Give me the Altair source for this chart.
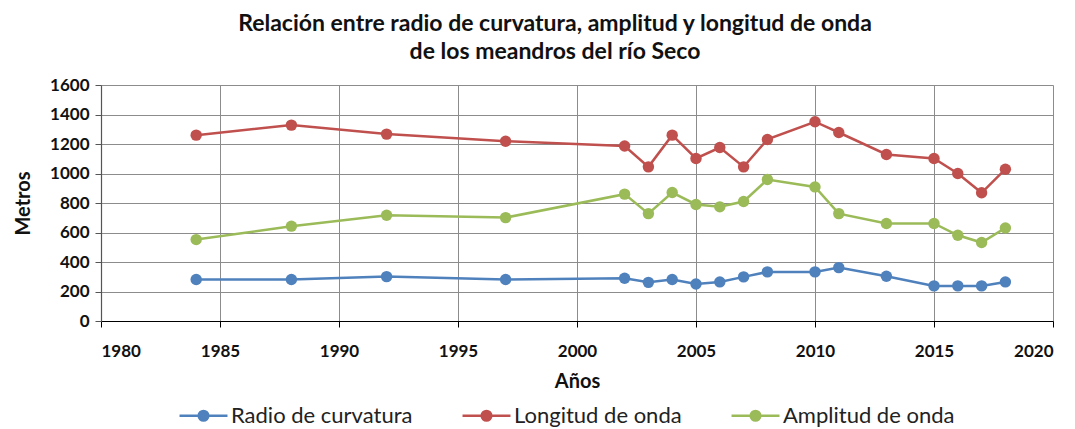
import altair as alt
import pandas as pd

years = [1984, 1988, 1992, 1997, 2002, 2003, 2004, 2005, 2006, 2007, 2008, 2010, 2011, 2013, 2015, 2016, 2017, 2018]
radio = [281, 281, 301, 281, 290, 262, 281, 251, 265, 299, 333, 333, 362, 303, 238, 238, 238, 265]
longitud = [1260, 1328, 1267, 1219, 1186, 1045, 1260, 1102, 1176, 1045, 1231, 1351, 1278, 1129, 1102, 1000, 869, 1029]
amplitud = [552, 643, 717, 701, 860, 728, 871, 790, 774, 810, 959, 909, 728, 661, 661, 581, 532, 631]
series = ["Radio de curvatura", "Longitud de onda", "Amplitud de onda"]
colors = ["#4F81BD", "#C0504D", "#9BBB59"]

rows = []
for name, vals in zip(series, [radio, longitud, amplitud]):
    for yr, v in zip(years, vals):
        rows.append({"Año": yr, "Metros": v, "Serie": name})
df = pd.DataFrame(rows)

FONT = "Lato"
sym_path = "M-1,0L1,0M0.2,0C0.2,0.267,-0.2,0.267,-0.2,0C-0.2,-0.267,0.2,-0.267,0.2,0Z"
legend = alt.Legend(
    title=None, orient="none", direction="horizontal", legendX=77, legendY=305,
    symbolType=sym_path, symbolSize=2300, symbolStrokeWidth=2.5,
    labelFont=FONT, labelFontSize=22, labelColor="#222222",
    columnPadding=44, labelOffset=2, labelLimit=400,
)

x = alt.X("Año:Q", title="Años",
          scale=alt.Scale(domain=[1980, 2020], nice=False, zero=False),
          axis=alt.Axis(values=list(range(1980, 2021, 5)), format="d"))
y = alt.Y("Metros:Q", title="Metros",
          scale=alt.Scale(domain=[0, 1600], nice=False),
          axis=alt.Axis(values=list(range(0, 1601, 200)), format="d"))

color = alt.Color("Serie:N", scale=alt.Scale(domain=series, range=colors), legend=legend)

lines = alt.Chart(df).mark_line(strokeWidth=2.5).encode(
    x=x, y=y, color=color,
)
points = alt.Chart(df).mark_point(filled=True, size=130, opacity=1).encode(
    x=x, y=y, color=color,
)

chart = alt.layer(lines, points).properties(
    width=952, height=236,
    title=alt.TitleParams(
        text=["Relación entre radio de curvatura, amplitud y longitud de onda",
              "de los meandros del río Seco"],
        font=FONT, fontSize=23, fontWeight="bold", color="#111111",
        anchor="middle", lineHeight=28, offset=12, dx=-22,
    ),
).configure_view(stroke=None).configure_axis(
    labelFont=FONT, labelFontSize=17, labelFontWeight="bold", labelColor="#111111",
    titleFont=FONT, titleFontSize=20, titleFontWeight="bold", titleColor="#111111",
    gridColor="#8c8c8c", gridWidth=1, domainColor="#000000", domainWidth=1.2,
    tickColor="#000000", tickSize=6,
).configure_axisX(labelPadding=16, titlePadding=12).configure_axisY(
    labelPadding=6, titlePadding=16, domainColor="#555555", tickColor="#555555"
)

chart.save("out.html", embed_options={"renderer": "svg", "actions": False})
